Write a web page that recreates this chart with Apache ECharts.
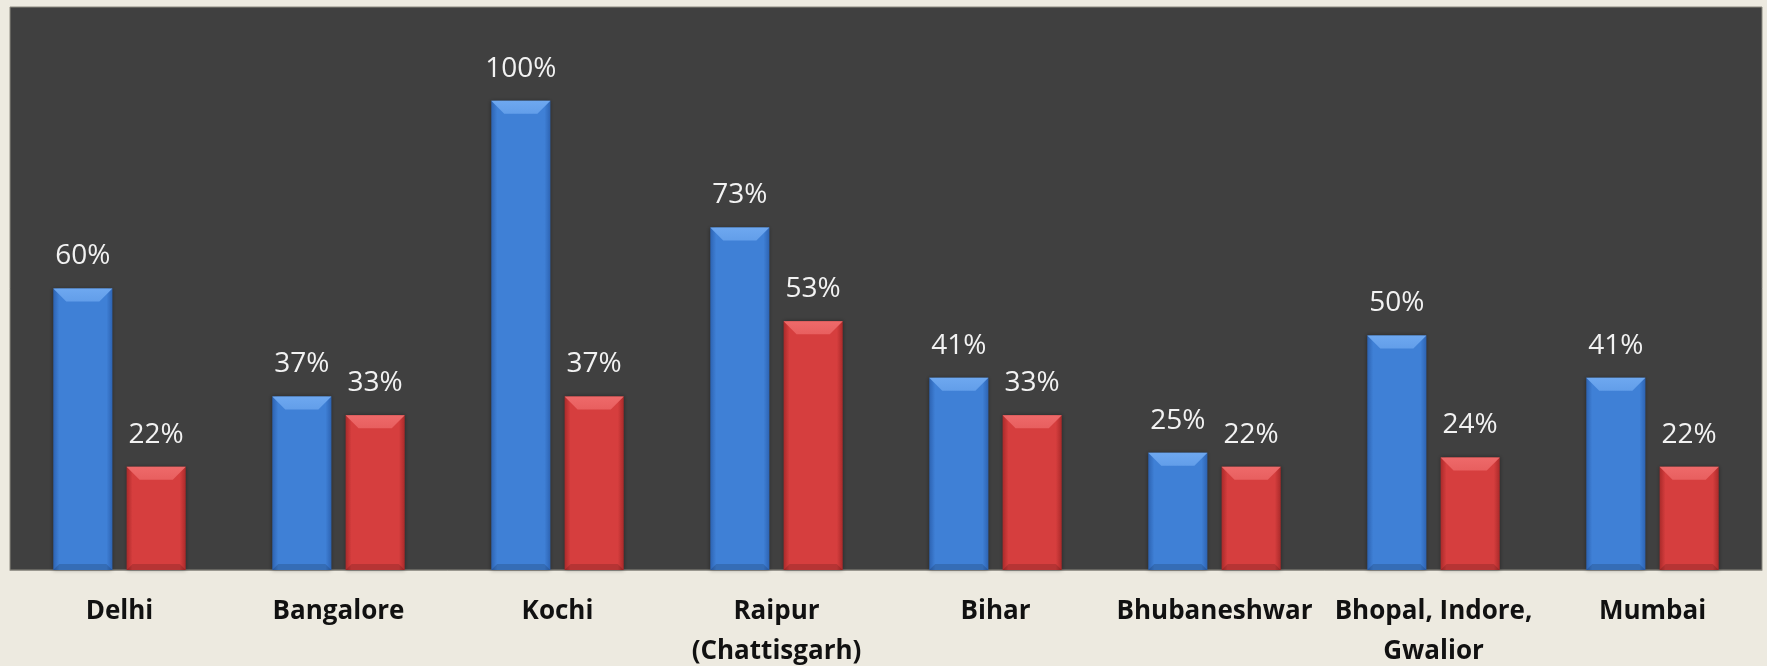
<!DOCTYPE html>
<html>
<head>
<meta charset="utf-8">
<script src="https://cdn.jsdelivr.net/npm/echarts@6/dist/echarts.min.js"></script>
<style>
  html, body { margin: 0; padding: 0; background: #edeae0; }
  #main { width: 1767px; height: 666px; }
</style>
</head>
<body>
<div id="main"></div>
<script>
var cities = ['Delhi', 'Bangalore', 'Kochi', 'Raipur\n(Chattisgarh)', 'Bihar', 'Bhubaneshwar', 'Bhopal, Indore,\nGwalior', 'Mumbai'];
var blueValues = [60, 37, 100, 73, 41, 25, 50, 41];
var redValues = [22, 33, 37, 53, 33, 22, 24, 22];

var BAR_PCT = 0.27;   // bar width as part of the category band
var GAP_PCT = 0.24;   // gap between the two bars, as part of bar width

var chart = echarts.init(document.getElementById('main'));

function barFill(dark, light) {
    return new echarts.graphic.LinearGradient(0, 0, 1, 0, [
        { offset: 0, color: dark },
        { offset: 0.1, color: light },
        { offset: 0.9, color: light },
        { offset: 1, color: dark }
    ]);
}

// bevelled cap drawn on top of each bar
function bevel(seriesIdx, capColor) {
    return function (params, api) {
        var idx = api.value(0);
        var val = api.value(1);
        var bw = api.size([1, 0])[0];
        var w = bw * BAR_PCT;
        var gap = w * GAP_PCT;
        var c = api.coord([idx, val]);
        var base = api.coord([idx, 0]);
        var x0 = seriesIdx === 0 ? c[0] - gap / 2 - w : c[0] + gap / 2;
        var x1 = x0 + w;
        var top = c[1];
        var d = 13;
        return {
            type: 'group',
            children: [{
                type: 'polygon',
                shape: { points: [[x0, top], [x1, top], [x1 - d, top + d], [x0 + d, top + d]] },
                style: {
                    fill: new echarts.graphic.LinearGradient(0, 0, 0, 1, [
                        { offset: 0, color: capColor },
                        { offset: 1, color: echarts.color.modifyAlpha(capColor, 0.75) }
                    ])
                }
            }, {
                type: 'polygon',
                shape: { points: [[x0, base[1]], [x1, base[1]], [x1 - 6, base[1] - 6], [x0 + 6, base[1] - 6]] },
                style: { fill: 'rgba(0,0,0,0.15)' }
            }]
        };
    };
}

var labelStyle = {
    show: true,
    position: 'top',
    distance: 18,
    color: '#f2f2f2',
    fontFamily: 'Open Sans',
    fontSize: 28,
    formatter: '{c}%'
};

chart.setOption({
    backgroundColor: '#edeae0',
    animation: false,
    grid: {
        left: 10, right: 5, top: 7, bottom: 96,
        outerBoundsMode: 'none',
        containLabel: false,
        show: true,
        backgroundColor: '#404040',
        borderColor: '#8c8a80',
        borderWidth: 1
    },
    xAxis: {
        type: 'category',
        data: cities,
        axisLine: { lineStyle: { color: '#9a9890', width: 1 } },
        axisTick: { show: false },
        axisLabel: {
            color: '#111',
            fontFamily: 'Open Sans',
            fontWeight: 'bold',
            fontSize: 26,
            lineHeight: 40,
            margin: 22,
            interval: 0
        }
    },
    yAxis: {
        type: 'value',
        min: 0,
        max: 120,
        show: false,
        splitLine: { show: false }
    },
    series: [{
        type: 'bar',
        data: blueValues,
        barWidth: (BAR_PCT * 100) + '%',
        barGap: (GAP_PCT * 100) + '%',
        itemStyle: {
            color: barFill('#2d63b2', '#3f80d6'),
            shadowColor: 'rgba(0,0,0,0.4)',
            shadowBlur: 4
        },
        label: labelStyle
    }, {
        type: 'bar',
        data: redValues,
        barWidth: (BAR_PCT * 100) + '%',
        itemStyle: {
            color: barFill('#aa2a2a', '#d63e3e'),
            shadowColor: 'rgba(0,0,0,0.4)',
            shadowBlur: 4
        },
        label: labelStyle
    }, {
        type: 'custom',
        renderItem: bevel(0, '#6ea8f0'),
        data: blueValues.map(function (v, i) { return [i, v]; }),
        z: 3
    }, {
        type: 'custom',
        renderItem: bevel(1, '#ee6a6a'),
        data: redValues.map(function (v, i) { return [i, v]; }),
        z: 3
    }]
});
</script>
</body>
</html>
